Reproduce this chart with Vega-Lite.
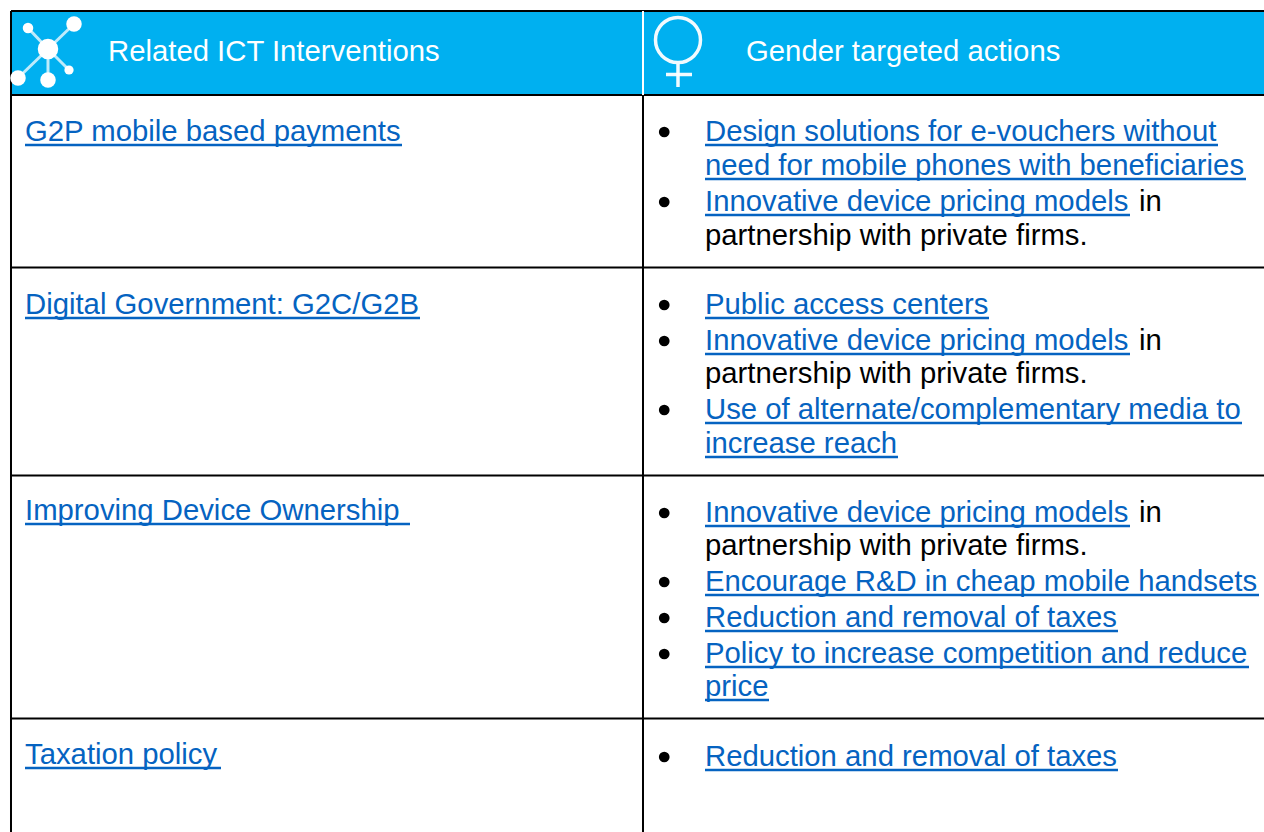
{
"$schema":"https://vega.github.io/schema/vega-lite/v6.json",
"width":1264,"height":832,"padding":0,"autosize":"none",
"background":"white",
"config":{"view":{"stroke":null}},
"datasets":{
"cells":[
{"text":"Related ICT Interventions","x":8.544,"line":1,"kind":"header"},
{"text":"Gender targeted actions","x":59.019,"line":1,"kind":"header"},
{"text":"G2P mobile based payments","x":1.978,"xEnd":31.804,"line":3,"kind":"link"},
{"text":"Design solutions for e-vouchers without","x":55.775,"xEnd":96.361,"line":3,"kind":"link","bullet":true},
{"text":"need for mobile phones with beneficiaries","x":55.775,"xEnd":98.576,"line":4,"kind":"link"},
{"text":"Innovative device pricing models","x":55.775,"xEnd":89.399,"line":5,"kind":"link","bullet":true},
{"text":"in","x":90.11,"line":5,"kind":"plain"},
{"text":"partnership with private firms.","x":55.775,"line":6,"kind":"plain"},
{"text":"Digital Government: G2C/G2B","x":1.978,"xEnd":33.228,"line":8,"kind":"link"},
{"text":"Public access centers","x":55.775,"xEnd":78.244,"line":8,"kind":"link","bullet":true},
{"text":"Innovative device pricing models","x":55.775,"xEnd":89.399,"line":9,"kind":"link","bullet":true},
{"text":"in","x":90.11,"line":9,"kind":"plain"},
{"text":"partnership with private firms.","x":55.775,"line":10,"kind":"plain"},
{"text":"Use of alternate/complementary media to","x":55.775,"xEnd":98.259,"line":11,"kind":"link","bullet":true},
{"text":"increase reach","x":55.775,"xEnd":71.044,"line":12,"kind":"link"},
{"text":"Improving Device Ownership","x":1.978,"xEnd":32.437,"line":14,"kind":"link"},
{"text":"Innovative device pricing models","x":55.775,"xEnd":89.399,"line":15,"kind":"link","bullet":true},
{"text":"in","x":90.11,"line":15,"kind":"plain"},
{"text":"partnership with private firms.","x":55.775,"line":16,"kind":"plain"},
{"text":"Encourage R&D in cheap mobile handsets","x":55.775,"xEnd":99.604,"line":17,"kind":"link","bullet":true},
{"text":"Reduction and removal of taxes","x":55.775,"xEnd":88.449,"line":18,"kind":"link","bullet":true},
{"text":"Policy to increase competition and reduce","x":55.775,"xEnd":98.813,"line":19,"kind":"link","bullet":true},
{"text":"price","x":55.775,"xEnd":60.839,"line":20,"kind":"link"},
{"text":"Taxation policy","x":1.978,"xEnd":17.484,"line":22,"kind":"link"},
{"text":"Reduction and removal of taxes","x":55.775,"xEnd":88.449,"line":23,"kind":"link","bullet":true}
],
"hRules":[{"line":0,"x":0.87,"x2":100},{"line":2,"x":0.87,"x2":100},{"line":7,"x":0.87,"x2":100},{"line":13,"x":0.87,"x2":100},{"line":21,"x":0.87,"x2":100}],
"vRules":[{"x":0.87,"line":0,"line2":24,"c":"edge"},{"x":50.87,"line":2,"line2":24,"c":"edge"}],
"spokes":[
{"x":3.797,"y":5.889,"x2":2.215,"y2":3.365,"node":"small"},
{"x":3.797,"y":5.889,"x2":5.854,"y2":2.885,"node":"large"},
{"x":3.797,"y":5.889,"x2":1.424,"y2":9.375,"node":"large"},
{"x":3.797,"y":5.889,"x2":3.797,"y2":9.615,"node":"large"},
{"x":3.797,"y":5.889,"x2":5.459,"y2":8.413,"node":"tiny"}
],
"nodes":[
{"x":3.797,"y":5.889,"node":"hub"},
{"x":2.215,"y":3.365,"node":"small"},
{"x":5.854,"y":2.885,"node":"large"},
{"x":1.424,"y":9.375,"node":"large"},
{"x":3.797,"y":9.615,"node":"large"},
{"x":5.459,"y":8.413,"node":"tiny"}
],
"venus":[
{"x":53.639,"y":7.692,"x2":53.639,"y2":10.457},
{"x":52.69,"y":8.954,"x2":54.747,"y2":8.954}
]
},
"resolve":{"scale":{"y":"independent"}},
"layer":[
{"encoding":{
  "x":{"field":"x","type":"quantitative","axis":null,"scale":{"domain":[0,100],"range":[0,1264],"nice":false,"zero":false}},
  "y":{"field":"line","type":"quantitative","axis":null,"scale":{"domain":[0,1,2,3,4,5,6,7,8,9,10,11,12,13,14,15,16,17,18,19,20,21,22,23,24],"range":[11,61,95,141,175,211,245,267.5,314,350,383,419,453,475.5,520,522,555,591,627,663,696,718.5,764,766,832],"nice":false,"zero":false}}
 },
 "layer":[
 {"data":{"values":[{"x":0.87,"x2":100,"line":0,"line2":2}]},"mark":{"type":"rect","color":"#00B0F0"},"encoding":{"x2":{"field":"x2"},"y2":{"field":"line2"}}},
 {"data":{"name":"hRules"},"mark":{"type":"rule","color":"black","strokeWidth":2},"encoding":{"x2":{"field":"x2"}}},
 {"data":{"name":"vRules"},"mark":{"type":"rule","color":"black","strokeWidth":2},"encoding":{"y2":{"field":"line2"}}},
 {"data":{"values":[{"x":50.87,"line":0,"line2":2}]},"mark":{"type":"rule","color":"white","strokeWidth":2},"encoding":{"y2":{"field":"line2"}}},
 {"data":{"name":"cells"},"transform":[{"filter":"datum.xEnd != null"}],"mark":{"type":"rule","color":"#0563C1","strokeWidth":2.4,"yOffset":4},"encoding":{"x2":{"field":"xEnd"}}},
 {"data":{"name":"cells"},"transform":[{"filter":"datum.bullet === true"}],"mark":{"type":"point","shape":"circle","filled":true,"opacity":1,"color":"black","size":115,"yOffset":-9},"encoding":{"x":{"datum":52.55}}},
 {"data":{"name":"cells"},"mark":{"type":"text","align":"left","baseline":"alphabetic","font":"Liberation Sans","fontSize":29.3},"encoding":{"text":{"field":"text"},"color":{"field":"kind","type":"nominal","legend":null,"scale":{"domain":["header","link","plain"],"range":["#FFFFFF","#0563C1","#000000"]}}}}
 ]
},
{"encoding":{
  "x":{"field":"x","type":"quantitative","axis":null,"scale":{"domain":[0,100],"range":[0,1264],"nice":false,"zero":false}},
  "y":{"field":"y","type":"quantitative","axis":null,"scale":{"domain":[0,100],"range":[0,832],"nice":false,"zero":false}}
 },
 "layer":[
 {"data":{"name":"spokes"},"mark":{"type":"rule","color":"white","strokeWidth":3,"opacity":0.75},"encoding":{"x2":{"field":"x2"},"y2":{"field":"y2"}}},
 {"data":{"name":"nodes"},"mark":{"type":"point","shape":"circle","filled":true,"opacity":1,"color":"white"},"encoding":{"size":{"field":"node","type":"ordinal","legend":null,"scale":{"type":"ordinal","domain":["hub","large","small","tiny"],"range":[420,240,110,85]}}}},
 {"data":{"values":[{"x":53.639,"y":4.808}]},"mark":{"type":"point","shape":"circle","filled":false,"opacity":0.95,"color":"white","strokeWidth":3.5,"size":2025}},
 {"data":{"name":"venus"},"mark":{"type":"rule","color":"white","strokeWidth":3.5,"opacity":0.95},"encoding":{"x2":{"field":"x2"},"y2":{"field":"y2"}}}
 ]
}
]
}
